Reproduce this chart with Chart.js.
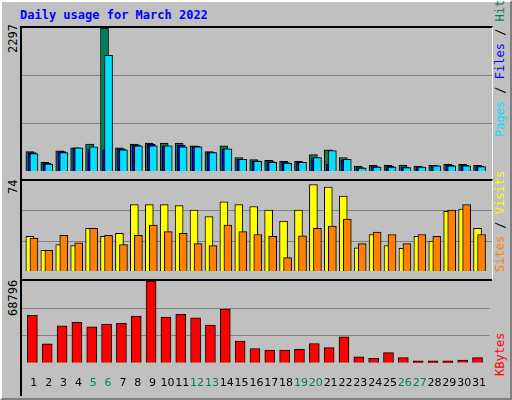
<!DOCTYPE html>
<html><head><meta charset="utf-8">
<script src="https://cdn.jsdelivr.net/npm/chart.js@4"></script>
<style>
body{margin:0;background:#fff;}
#wrap{position:absolute;left:0;top:0;width:508px;height:396px;background:#c0c0c0;border-top:2px solid #fff;border-left:2px solid #fff;border-right:2px solid #808080;border-bottom:2px solid #808080;}
.p{position:absolute;left:20px;width:470px;border-left:2px solid #000;border-top:2px solid #000;border-bottom:1px solid #fff;border-right:1px solid #fff;}
canvas{display:block}
.t{position:absolute;font-family:"DejaVu Sans Mono",monospace;font-size:12px;white-space:nowrap;line-height:14px;}
.v{transform-origin:0 0;transform:rotate(-90deg);}
</style></head><body>
<div id="wrap"></div>
<div class="t" style="left:20px;top:8px;color:#0000ff;font-weight:bold;">Daily usage for March 2022</div>
<div class="p" style="top:26px;height:151px"><canvas id="c1" width="470" height="151"></canvas></div>
<div class="p" style="top:179px;height:98px"><canvas id="c2" width="470" height="98"></canvas></div>
<div class="p" style="top:279px;height:115px;border-bottom:none;border-right:none"><canvas id="c3" width="470" height="115"></canvas></div>
<div class="t v" style="left:6px;top:53px;">2297</div>
<div class="t v" style="left:6px;top:194px;">74</div>
<div class="t v" style="left:6px;top:316px;">68796</div>
<div class="t v" style="left:493px;top:137px;"><span style="color:#00e0ff">Pages</span> / <span style="color:#0000ff">Files</span> / <span style="color:#00805c">Hits</span></div>
<div class="t v" style="left:493px;top:272px;"><span style="color:#ff8000">Sites</span> / <span style="color:#ffff00">Visits</span></div>
<div class="t v" style="left:493px;top:376px;color:#ff0000">KBytes</div>
<script>
const days=[1,2,3,4,5,6,7,8,9,10,11,12,13,14,15,16,17,18,19,20,21,22,23,24,25,26,27,28,29,30,31];
const weekends=[5,6,12,13,19,20,26,27];
const hits=[310,140,325,372,434,2297,372,434,450,450,450,403,310,403,217,185,170,155,155,264,341,217,78,93,93,93,78,93,109,109,93];
const files=[295,125,310,372,357,340,357,418,427,403,418,395,302,357,186,162,150,135,140,210,110,180,55,70,80,62,66,88,90,90,75];
const pages=[280,110,295,372,388,1860,340,403,403,403,388,388,295,357,186,155,140,124,140,217,326,186,47,62,62,54,62,85,85,85,70];
const visits=[28.6,17,21.7,20.9,35,28.6,30.9,54.6,54.6,54.6,53.8,50,44.7,56.9,54.6,53,50,41,50,71,69,61.5,19,30,21,18.6,28.6,24.7,49,51,35];
const sites=[27,17,29.3,23.2,35,29.3,21.7,29.3,37.8,32.4,30.9,22.5,20.9,37.8,32.4,30,28.6,11,29,35,37,42.6,22.5,32,30,22.5,30,28.6,50,54.6,30];
const kbytes=[40000,16000,31000,34000,30250,32500,33250,39250,68796,38500,40750,37750,31750,45250,18250,12000,10700,10700,11400,16200,12800,21800,5100,3700,8600,4400,1600,1600,1600,2300,4400];
const maxHits=2297,maxVisits=74,maxK=68796;

function ds(vals,off,color,w,order){return {data:days.map((d,i)=>({x:d+off,y:vals[i]})),backgroundColor:color,borderColor:'#000',borderWidth:1,barThickness:w,grouped:false,order:order};}
function mk(id,sets,max,showX){
  new Chart(document.getElementById(id),{type:'bar',data:{datasets:sets},options:{
    responsive:false,animation:false,layout:{padding:0},
    plugins:{legend:{display:false},tooltip:{enabled:false}},
    scales:{
      x:{type:'linear',min:0.2,max:31.7,offset:false,grid:{display:false},border:{display:false},
        ticks:{display:showX,stepSize:1,autoSkip:false,maxRotation:0,minRotation:0,padding:6,font:{family:'DejaVu Sans',size:11},
          color:c=>weekends.includes(c.tick.value)?'#00805c':'#000',callback:v=>Number.isInteger(v)&&v>=1&&v<=31?String(v):''},afterBuildTicks:a=>{a.ticks=days.map(v=>({value:v}));}},
      y:{min:0,max:max,display:true,ticks:{display:false,stepSize:max/3},border:{display:false},grid:{color:'#808080',drawTicks:false,lineWidth:c=>(c.tick.value>0&&c.tick.value<max-1)?1:0}}
    }}});
}
mk('c1',[ds(hits,-0.27,'#00805c',8,3),ds(files,-0.13,'#0000ff',8,2),ds(pages,0,'#00e0ff',8,1)],maxHits,false);
mk('c2',[ds(visits,-0.27,'#ffff00',8,2),ds(sites,0,'#ff8000',8,1)],maxVisits,false);
mk('c3',[ds(kbytes,-0.1,'#ff0000',10,1)],maxK,true);
</script></body></html>
